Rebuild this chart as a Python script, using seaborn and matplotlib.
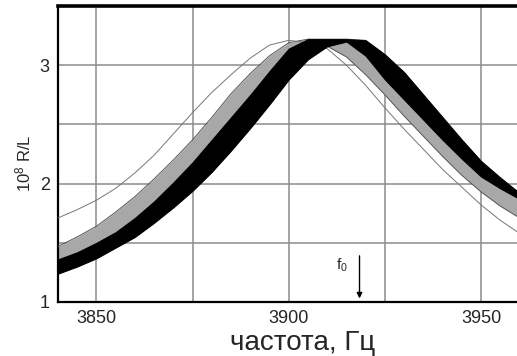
import numpy as np
import pandas as pd
import matplotlib
matplotlib.use("Agg")
import matplotlib.pyplot as plt
import seaborn as sns

# frequency grid, Hz
freq = [3840, 3845, 3850, 3855, 3860, 3865, 3870, 3875, 3880, 3885, 3890, 3895, 3900,
        3905, 3910, 3915, 3920, 3925, 3930, 3935, 3940, 3945, 3950, 3955, 3960]

# dense black band (upper / lower edge), 10^8 R/L
band_hi = [1.36, 1.42, 1.50, 1.59, 1.71, 1.85, 2.01, 2.18, 2.37, 2.56, 2.75, 2.95, 3.14,
           3.22, 3.22, 3.22, 3.21, 3.09, 2.94, 2.75, 2.56, 2.37, 2.19, 2.05, 1.92]
band_lo = [1.24, 1.30, 1.37, 1.46, 1.55, 1.67, 1.80, 1.94, 2.10, 2.28, 2.47, 2.67, 2.88,
           3.05, 3.16, 3.20, 3.08, 2.88, 2.71, 2.54, 2.37, 2.21, 2.06, 1.96, 1.87]

# sparse thin curves around the band
fringe_hi = [1.47, 1.55, 1.64, 1.76, 1.89, 2.04, 2.20, 2.37, 2.56, 2.76, 2.93, 3.08, 3.19,
             3.22, 3.22, 3.22, 3.21, 3.09, 2.94, 2.75, 2.56, 2.37, 2.19, 2.05, 1.92]
fringe_lo = [1.24, 1.30, 1.37, 1.46, 1.55, 1.67, 1.80, 1.94, 2.10, 2.28, 2.47, 2.67, 2.88,
             3.05, 3.16, 3.07, 2.92, 2.75, 2.57, 2.40, 2.23, 2.07, 1.93, 1.81, 1.71]

# single outlying curve (lowest resonance)
outlier = [1.71, 1.78, 1.86, 1.96, 2.09, 2.24, 2.42, 2.60, 2.77, 2.92, 3.06, 3.17, 3.21,
           3.19, 3.14, 3.00, 2.83, 2.64, 2.46, 2.29, 2.12, 1.97, 1.82, 1.69, 1.58]

f0 = 3918.4

df = pd.DataFrame({"freq": freq, "band_hi": band_hi, "band_lo": band_lo,
                   "fringe_hi": fringe_hi, "fringe_lo": fringe_lo, "outlier": outlier})

sns.set_style("white")
plt.rcParams['font.family'] = ['Liberation Sans', 'DejaVu Sans']
plt.rcParams['mathtext.default'] = 'regular'

fig = plt.figure(figsize=(5.17, 3.56), dpi=100)
ax = fig.add_axes([58/517, 54/356, 461.5/517, 296/356])

# fringe of sparse curves, then the dense band
ax.fill_between(df["freq"], df["fringe_lo"], df["fringe_hi"], color="#a8a8a8", lw=0, zorder=2)
sns.lineplot(data=df, x="freq", y="fringe_hi", color="#555555", lw=0.7, ax=ax, zorder=3)
sns.lineplot(data=df, x="freq", y="fringe_lo", color="#555555", lw=0.7, ax=ax, zorder=3)
ax.fill_between(df["freq"], df["band_lo"], df["band_hi"], color="black", lw=0.8,
                edgecolor="black", zorder=4)
sns.lineplot(data=df, x="freq", y="outlier", color="#777777", lw=0.7, ax=ax, zorder=3)

ax.set_xlim(3840, 3960)
ax.set_ylim(1, 3.5)
ax.set_xticks([3850, 3875, 3900, 3925, 3950])
ax.set_xticklabels(["3850", "", "3900", "", "3950"])
ax.set_yticks([1, 1.5, 2, 2.5, 3])
ax.set_yticklabels(["1", "", "2", "", "3"])
ax.tick_params(length=0, labelsize=13)
ax.tick_params(axis="x", pad=6)
ax.tick_params(axis="y", pad=6)
ax.grid(True, color="#8c8c8c", lw=1.1, zorder=0)
ax.set_axisbelow(True)

ax.set_xlabel("")
ax.set_ylabel("")
ax.spines["right"].set_visible(False)
ax.spines["left"].set_linewidth(1.6)
ax.spines["bottom"].set_linewidth(1.6)
ax.spines["top"].set_linewidth(2.6)
for s in ax.spines.values():
    s.set_color("black")

# f0 marker
ax.annotate("", xy=(f0, 1.03), xytext=(f0, 1.39),
            arrowprops=dict(arrowstyle="-|>", color="black", lw=1.0,
                            mutation_scale=8, shrinkA=0, shrinkB=0))
ax.text(f0 - 4.5, 1.31, "f$_0$", fontsize=11, ha="center", va="center")

fig.text(303/517, 1 - 349.5/356, "частота, Гц", fontsize=20, ha="center", va="baseline")
fig.text(23/517, 1 - 163/356, "10$^8$ R/L", fontsize=12, rotation=90,
         ha="center", va="center")

fig.savefig("out.png", dpi=100)
